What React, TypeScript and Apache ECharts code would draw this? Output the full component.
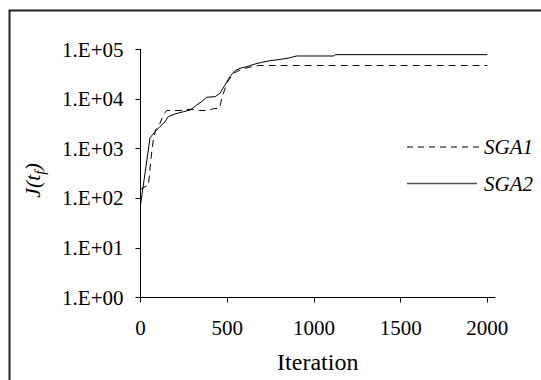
import React, { useEffect, useRef } from "react";
import * as echarts from "echarts";

const sga1Iter = [0, 36, 45, 55, 64, 74, 87, 112, 132, 151, 245, 255, 320, 340, 390, 420, 455, 468, 497, 535, 583, 630, 680, 2000];
const sga1Val = [150, 180, 180, 400, 810, 1500, 2400, 3240, 4800, 5900, 5900, 6200, 6200, 5900, 5900, 6400, 6500, 10000, 21000, 33000, 40000, 44000, 47500, 47500];

const sga2Iter = [0, 55, 84, 112, 141, 160, 199, 247, 285, 324, 353, 382, 430, 458, 487, 516, 545, 574, 612, 660, 699, 747, 805, 852, 900, 1112, 1125, 2000];
const sga2Val = [73, 1660, 2200, 2780, 3480, 4440, 5020, 5570, 6000, 7600, 8900, 10900, 11200, 13100, 19200, 28300, 37500, 41700, 45000, 51000, 55000, 59500, 63000, 67000, 74000, 74000, 78700, 78700];

const xTicks = [0, 500, 1000, 1500, 2000];
const seriesNames = ["SGA1", "SGA2"];

const FONT = "Liberation Serif";

export default function App() {
  const ref = useRef<HTMLDivElement>(null);
  useEffect(() => {
    if (!ref.current) return;
    const chart = echarts.init(ref.current, null, { renderer: "svg" });
    const d1 = sga1Iter.map((x, i) => [x, sga1Val[i]]);
    const d2 = sga2Iter.map((x, i) => [x, sga2Val[i]]);
    const legendText = (text: string, y: number) => ({
      type: "text",
      x: 484,
      y: y,
      silent: true,
      style: {
        text,
        fontFamily: FONT,
        fontStyle: "italic",
        fontSize: 21,
        fill: "#000",
        verticalAlign: "middle",
      },
    });
    chart.setOption({
      animation: false,
      backgroundColor: "#fff",
      textStyle: { fontFamily: FONT },
      grid: { left: 140.5, top: 49.5, right: 46, bottom: 82.5 },
      graphic: [
        {
          type: "rect",
          shape: { x: 9.5, y: 10.5, width: 600, height: 400 },
          style: { fill: "none", stroke: "#222", lineWidth: 2 },
          silent: true,
        },
        {
          type: "line",
          shape: { x1: 407, y1: 147, x2: 481, y2: 147 },
          style: { stroke: "#000", lineWidth: 1, lineDash: [6, 5] },
          silent: true,
        },
        {
          type: "line",
          shape: { x1: 407, y1: 183.5, x2: 477, y2: 183.5 },
          style: { stroke: "#555", lineWidth: 1.5 },
          silent: true,
        },
        legendText(seriesNames[0], 147),
        legendText(seriesNames[1], 183.5),
      ],
      xAxis: {
        type: "value",
        min: 0,
        max: 2044,
        interval: 500,
        name: "Iteration",
        nameLocation: "middle",
        nameGap: 52,
        nameTextStyle: { fontFamily: FONT, fontSize: 24, color: "#000" },
        axisLine: { lineStyle: { color: "#000", width: 1 } },
        axisTick: { customValues: xTicks, length: 5, lineStyle: { color: "#000" } },
        axisLabel: {
          customValues: xTicks,
          fontFamily: FONT,
          fontSize: 21,
          color: "#000",
          margin: 20,
          formatter: (v: number) => String(v),
        },
        splitLine: { show: false },
      },
      yAxis: {
        type: "log",
        logBase: 10,
        min: 1,
        max: 100000,
        name: "{a|J(t}{b|f}{a|)}",
        nameLocation: "middle",
        nameRotate: 90,
        nameGap: 97,
        nameTextStyle: {
          padding: [0, 14, 0, 0],
          rich: {
            a: { fontFamily: FONT, fontStyle: "italic", fontSize: 22, color: "#000", verticalAlign: "bottom" },
            b: { fontFamily: FONT, fontStyle: "italic", fontSize: 15, color: "#000", verticalAlign: "bottom", padding: [0, 0, -4, 0] },
          },
        },
        axisLine: { show: true, lineStyle: { color: "#000", width: 1 } },
        axisTick: { show: true, length: 5, lineStyle: { color: "#000" } },
        axisLabel: {
          fontFamily: FONT,
          fontSize: 21,
          color: "#000",
          margin: 17,
          formatter: (v: number) => "1.E+" + String(Math.round(Math.log10(v))).padStart(2, "0"),
        },
        splitLine: { show: false },
        minorTick: { show: false },
      },
      series: [
        {
          name: seriesNames[0],
          type: "line",
          data: d1,
          symbol: "none",
          lineStyle: { color: "#000", width: 1, type: [7, 5] },
        },
        {
          name: seriesNames[1],
          type: "line",
          data: d2,
          symbol: "none",
          lineStyle: { color: "#000", width: 1 },
        },
      ],
    });
    return () => chart.dispose();
  }, []);
  return (
    <div
      ref={ref}
      style={{ position: "fixed", left: 0, top: 0, width: 541, height: 380, background: "#fff" }}
    />
  );
}
